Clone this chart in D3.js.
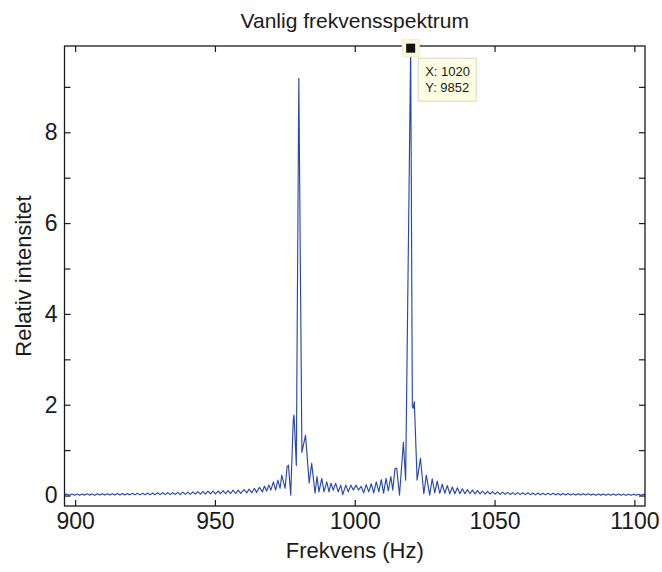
<!DOCTYPE html>
<html>
<head>
<meta charset="utf-8">
<script src="https://cdn.jsdelivr.net/npm/d3@7"></script>
<style>
body { margin: 0; background: #fff; }
text { font-family: "Liberation Sans", Arial, Helvetica, sans-serif; fill: #1a1a1a; }
</style>
</head>
<body>
<div id="chart"></div>
<script>
// spectrum, [frequency Hz, intensity (x1000)]
var leftTail = [
    [896.2, 0.01], [897.1, 0.035], [898.0, 0.005], [898.9, 0.035], [899.8, 0.005], [900.7, 0.035],
    [901.6, 0.005], [902.5, 0.035], [903.4, 0.01], [904.3, 0.04], [905.2, 0.01], [906.1, 0.035],
    [907.0, 0.005], [907.9, 0.04], [908.8, 0.01], [909.7, 0.04], [910.6, 0.01], [911.5, 0.04],
    [912.4, 0.01], [913.3, 0.04], [914.2, 0.01], [915.1, 0.045], [916.0, 0.01], [916.9, 0.045],
    [917.8, 0.01], [918.7, 0.045], [919.6, 0.015], [920.5, 0.05], [921.4, 0.015], [922.3, 0.05],
    [923.2, 0.015], [924.1, 0.05], [925.0, 0.015], [925.9, 0.055], [926.8, 0.015], [927.7, 0.055],
    [928.6, 0.02], [929.5, 0.06], [930.4, 0.02], [931.3, 0.06], [932.2, 0.02], [933.1, 0.065],
    [934.0, 0.02], [934.9, 0.065], [935.8, 0.025], [936.7, 0.07], [937.6, 0.02], [938.5, 0.075],
    [939.4, 0.025], [940.3, 0.075], [941.2, 0.025], [942.1, 0.08], [943.0, 0.03], [943.9, 0.085],
    [944.8, 0.03], [945.7, 0.09], [946.6, 0.03], [947.5, 0.095], [948.4, 0.035], [949.3, 0.1],
    [950.2, 0.035], [951.1, 0.1], [952.0, 0.04], [952.9, 0.11], [953.8, 0.04], [954.7, 0.11],
    [955.6, 0.045], [956.5, 0.12], [957.4, 0.045], [958.3, 0.12], [959.2, 0.05]
]

var peakLeft = [
    [960.4, 0.13], [961.4, 0.06], [962.2, 0.14], [963.2, 0.06], [964.1, 0.16], [964.9, 0.07],
    [965.9, 0.18], [967.0, 0.08], [967.7, 0.21], [968.5, 0.1], [969.3, 0.23], [970.0, 0.12],
    [970.9, 0.3], [971.7, 0.12], [972.5, 0.34], [973.3, 0.16], [973.9, 0.45], [975.1, 0.16],
    [975.8, 0.63], [976.3, 0.67], [977.1, 0.01], [978.0, 1.66], [978.3, 1.77], [979.1, 0.66],
    [980.0, 9.19], [981.1, 0.95], [982.4, 1.33], [983.7, 0.28], [984.6, 0.71], [985.8, 0.05],
    [986.5, 0.42], [987.2, 0.08], [988.2, 0.38]
]

var middle = [
    [989.0, 0.08], [990.0, 0.3], [990.8, 0.08], [991.5, 0.27], [992.3, 0.12], [993.2, 0.27],
    [994.1, 0.08], [995.0, 0.23], [995.7, 0.02], [996.8, 0.23], [997.7, 0.08], [998.6, 0.23],
    [999.5, 0.12], [1000.5, 0.23], [1001.3, 0.12], [1002.3, 0.2], [1003.2, 0.06], [1004.1, 0.24],
    [1005.0, 0.08], [1005.9, 0.26], [1006.8, 0.06], [1007.7, 0.3], [1008.6, 0.08], [1009.5, 0.35],
    [1010.3, 0.05], [1011.2, 0.38]
]

var peakRight = [
    [1012.0, 0.1], [1012.9, 0.42], [1013.6, 0.12], [1014.4, 0.6], [1015.0, 0.6], [1016.0, 0.01],
    [1017.4, 1.17], [1018.2, 0.34], [1020.0, 9.852], [1020.6, 1.96], [1020.9, 1.92], [1021.3, 2.07],
    [1022.3, 0.34], [1023.5, 0.82], [1024.7, 0.04], [1025.6, 0.45], [1026.8, 0.01], [1027.7, 0.37],
    [1028.6, 0.06], [1029.5, 0.32], [1030.4, 0.05], [1031.3, 0.25], [1032.2, 0.05], [1033.1, 0.22],
    [1034.0, 0.04], [1034.9, 0.19], [1035.8, 0.04], [1036.7, 0.17], [1037.6, 0.04], [1038.5, 0.15],
    [1039.4, 0.04]
]

var rightTail = [
    [1040.3, 0.13], [1041.2, 0.04], [1042.1, 0.12], [1043.0, 0.035], [1043.9, 0.11], [1044.8, 0.035],
    [1045.7, 0.1], [1046.6, 0.03], [1047.5, 0.09], [1048.4, 0.03], [1049.3, 0.085], [1050.2, 0.03],
    [1051.1, 0.08], [1052.0, 0.025], [1052.9, 0.075], [1053.8, 0.025], [1054.7, 0.07], [1055.6, 0.025],
    [1056.5, 0.065], [1057.4, 0.02], [1058.3, 0.065], [1059.2, 0.02], [1060.1, 0.06], [1061.0, 0.02],
    [1061.9, 0.06], [1062.8, 0.02], [1063.7, 0.055], [1064.6, 0.015], [1065.5, 0.055], [1066.4, 0.015],
    [1067.3, 0.05], [1068.2, 0.015], [1069.1, 0.05], [1070.0, 0.015], [1070.9, 0.05], [1071.8, 0.015],
    [1072.7, 0.045], [1073.6, 0.01], [1074.5, 0.045], [1075.4, 0.01], [1076.3, 0.045], [1077.2, 0.01],
    [1078.1, 0.04], [1079.0, 0.01], [1079.9, 0.04], [1080.8, 0.01], [1081.7, 0.04], [1082.6, 0.01],
    [1083.5, 0.04], [1084.4, 0.01], [1085.3, 0.035], [1086.2, 0.005], [1087.1, 0.035], [1088.0, 0.01],
    [1088.9, 0.035], [1089.8, 0.005], [1090.7, 0.035], [1091.6, 0.005], [1092.5, 0.035], [1093.4, 0.005],
    [1094.3, 0.035], [1095.2, 0.005], [1096.1, 0.03], [1097.0, 0.005], [1097.9, 0.03], [1098.8, 0.005],
    [1099.7, 0.03], [1100.6, 0.005], [1101.5, 0.03], [1102.4, 0.005], [1103.3, 0.03], [1103.8, 0.015]
]

var xTicks = [900, 950, 1000, 1050, 1100]
var yTicks = [0, 1, 2, 3, 4, 5, 6, 7, 8, 9]
var yLabelled = [0, 2, 4, 6, 8]

var tipX = 1020
var tipY = 9852

var width = 662
var height = 572

var spectrum = leftTail.concat(peakLeft, middle, peakRight, rightTail)

var svg = d3.select('#chart')
    .append('svg')
    .attr('width', width)
    .attr('height', height)

svg.append('rect')
    .attr('width', width)
    .attr('height', height)
    .attr('fill', '#fff')

var x = d3.scaleLinear()
    .domain([896.2, 1103.8])
    .range([64.5, 645])

var y = d3.scaleLinear()
    .domain([-0.23, 9.9])
    .range([506, 46])

var line = d3.line()
    .x(function(d) { return x(d[0]) })
    .y(function(d) { return y(d[1]) })

svg.append('path')
    .datum(spectrum)
    .attr('d', line)
    .attr('fill', 'none')
    .attr('stroke', '#2a48aa')
    .attr('stroke-width', 1.15)
    .attr('stroke-linejoin', 'round')

function styleAxis(g) {
    g.select('.domain').remove()
    g.selectAll('.tick line')
        .attr('stroke', '#1a1a1a')
        .attr('stroke-width', 1.2)
    g.selectAll('.tick text')
        .attr('font-size', '23px')
        .attr('fill', '#1a1a1a')
}

var yFmt = function(d) { return yLabelled.indexOf(d) >= 0 ? d : '' }

svg.append('g')
    .attr('transform', 'translate(0,506)')
    .call(d3.axisBottom(x).tickValues(xTicks).tickSizeInner(-6).tickSizeOuter(0).tickPadding(7).tickFormat(d3.format('d')))
    .call(styleAxis)

svg.append('g')
    .attr('transform', 'translate(0,46)')
    .call(d3.axisTop(x).tickValues(xTicks).tickSizeInner(-6).tickSizeOuter(0).tickFormat(''))
    .call(styleAxis)

svg.append('g')
    .attr('transform', 'translate(64.5,0)')
    .call(d3.axisLeft(y).tickValues(yTicks).tickSizeInner(-6).tickSizeOuter(0).tickPadding(7).tickFormat(yFmt))
    .call(styleAxis)

svg.append('g')
    .attr('transform', 'translate(645,0)')
    .call(d3.axisRight(y).tickValues(yTicks).tickSizeInner(-6).tickSizeOuter(0).tickFormat(''))
    .call(styleAxis)

// axes box
svg.append('rect')
    .attr('x', 64.5)
    .attr('y', 46)
    .attr('width', 645 - 64.5)
    .attr('height', 506 - 46)
    .attr('fill', 'none')
    .attr('stroke', '#1a1a1a')
    .attr('stroke-width', 1.3)

svg.append('text')
    .attr('x', (64.5 + 645) / 2)
    .attr('y', 28)
    .attr('text-anchor', 'middle')
    .attr('font-size', '21px')
    .text('Vanlig frekvensspektrum')

svg.append('text')
    .attr('x', (64.5 + 645) / 2)
    .attr('y', 558)
    .attr('text-anchor', 'middle')
    .attr('font-size', '22px')
    .text('Frekvens (Hz)')

svg.append('text')
    .attr('transform', 'translate(31,' + (46 + 506) / 2 + ') rotate(-90)')
    .attr('text-anchor', 'middle')
    .attr('font-size', '22px')
    .text('Relativ intensitet')

// data tip
var mx = x(tipX)
var my = y(tipY / 1000)

svg.append('rect')
    .attr('x', mx - 8.5)
    .attr('y', my - 8.5)
    .attr('width', 17)
    .attr('height', 17)
    .attr('fill', '#fbf8d8')
    .attr('stroke', '#efeccc')

svg.append('rect')
    .attr('x', mx - 4.5)
    .attr('y', my - 4.5)
    .attr('width', 9)
    .attr('height', 9)
    .attr('fill', '#111')

var tip = svg.append('g')
    .attr('transform', 'translate(' + (mx + 7.5) + ',' + (my + 10) + ')')

tip.append('rect')
    .attr('width', 58)
    .attr('height', 43)
    .attr('fill', '#ffffe4')
    .attr('stroke', '#d6d6c4')

tip.append('text')
    .attr('x', 7)
    .attr('y', 18)
    .attr('font-size', '13px')
    .text('X: ' + tipX)

tip.append('text')
    .attr('x', 7)
    .attr('y', 34)
    .attr('font-size', '13px')
    .text('Y: ' + tipY)
</script>
</body>
</html>
